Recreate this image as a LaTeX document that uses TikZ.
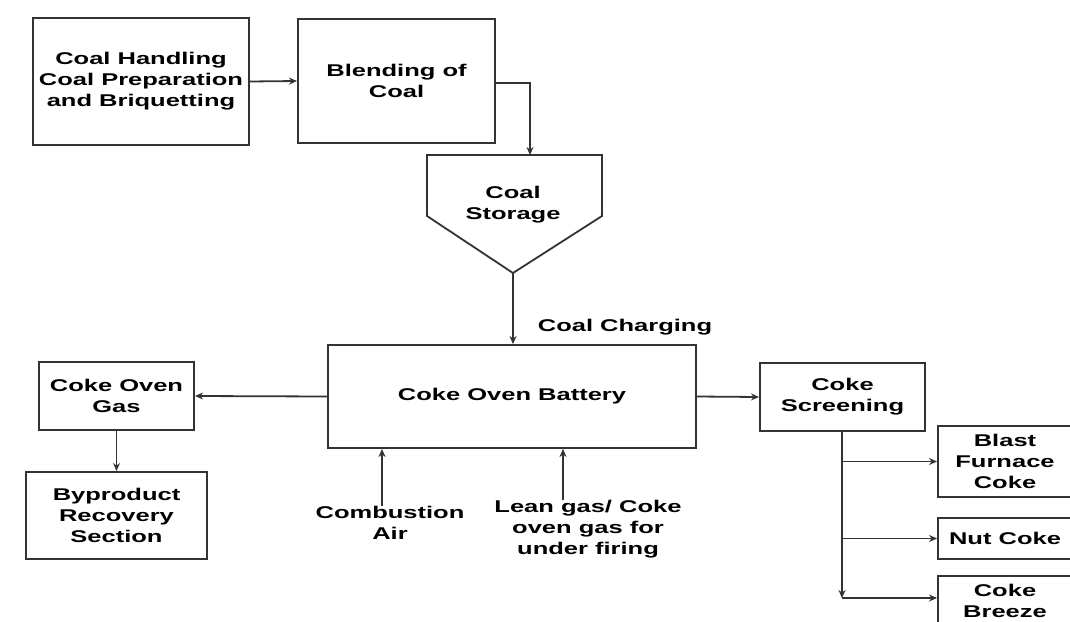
\documentclass[tikz,border=0pt]{standalone}
\usepackage{fontspec}
\newfontfamily\diagfont{Liberation Sans}[FakeStretch=1.5]
\usetikzlibrary{arrows.meta}
\begin{document}
\begin{tikzpicture}[x=1pt,y=-1pt,
  txt/.style={inner sep=0pt, align=center, text=black,
    font=\diagfont\bfseries\fontsize{17}{21}\selectfont},
  box/.style={txt, draw=black!80, line width=2pt},
  ln/.style={draw=black!80, line width=1.8pt},
  arr/.style={ln, -{Stealth[length=8pt,width=7pt]}}]
\useasboundingbox[fill=white] (0,0) rectangle (1070,621);

% boxes
\node[box, minimum width=216pt, minimum height=127pt] (hand) at (141,81.5)
  {Coal Handling\\Coal Preparation\\and Briquetting};
\node[box, minimum width=197pt, minimum height=124pt] (blend) at (396.5,81)
  {Blending of\\Coal};
\node[box, minimum width=368pt, minimum height=103pt] (bat) at (512,396.5)
  {Coke Oven Battery};
\node[box, minimum width=155pt, minimum height=68pt] (gas) at (116.5,396)
  {Coke Oven\\Gas};
\node[box, minimum width=181pt, minimum height=87pt] (byp) at (116.5,515.5)
  {Byproduct\\Recovery\\Section};
\node[box, minimum width=165pt, minimum height=68pt] (screen) at (842.5,397)
  {Coke\\Screening};
\node[box, minimum width=134pt, minimum height=71pt] (blast) at (1005,461.5)
  {Blast\\Furnace\\Coke};
\node[box, minimum width=134pt, minimum height=41pt] (nut) at (1005,538.5)
  {Nut Coke};
\node[box, minimum width=134pt, minimum height=50pt] (breeze) at (1005,601)
  {Coke\\Breeze};

% coal storage hopper
\coordinate (stNW) at (427,155);
\coordinate (stNE) at (602,155);
\coordinate (stSE) at (602,216);
\coordinate (stTip) at (513,273);
\coordinate (stSW) at (427,216);
\draw[ln, line join=miter] (stNW) -- (stNE) -- (stSE) -- (stTip) -- (stSW) -- cycle;
\node[txt] (stor) at (513,205) {Coal\\Storage};
\coordinate (stIn) at (530,155);

% labels
\node[txt] (charge) at (625,327) {Coal Charging};
\node[txt] (comb) at (390,522.5) {Combustion\\Air};
\node[txt] (lean) at (588,529.5) {Lean gas/ Coke\\oven gas for\\under firing};

% connectors
\draw[arr] (hand.east) -- (blend.west);
\draw[arr] (blend.east |- 0,83) -| (stIn);
\draw[arr] (stTip) -- (stTip |- bat.north);
\draw[arr] (bat.west) -- (gas.east);
\draw[arr] (gas.south) -- (byp.north);
\draw[arr] (bat.east) -- (screen.west);
\draw[arr] ([xshift=-8pt]comb.north) -- ([xshift=-8pt]comb.north |- bat.south);
\draw[arr] ([xshift=-25pt]lean.north) -- ([xshift=-25pt]lean.north |- bat.south);

\coordinate (corner) at (842,598);
\draw[arr] (screen.south -| corner) -- (corner);
\draw[arr] (corner) -- (corner -| breeze.west);
\draw[arr] (corner |- blast.west) -- (blast.west);
\draw[arr] (corner |- nut.west) -- (nut.west);
\end{tikzpicture}
\end{document}
